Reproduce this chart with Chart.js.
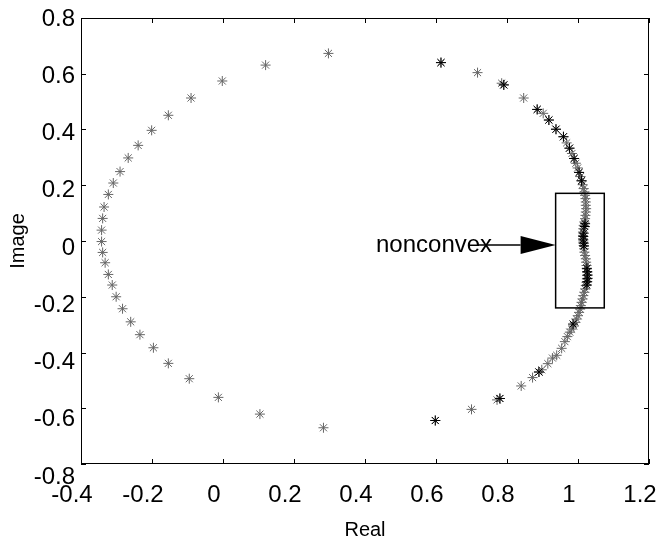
<!DOCTYPE html>
<html>
<head>
<meta charset="utf-8">
<script src="https://cdn.jsdelivr.net/npm/chart.js@4"></script>
<style>
  html, body { margin: 0; padding: 0; background: #fff; }
  #wrap { width: 660px; height: 546px; position: relative; }
</style>
</head>
<body>
<div id="wrap"><canvas id="poleChart"></canvas></div>
<script>
// all poles (grey)
const greyRe = [
    0.614, 0.717, 0.785, 0.791, 0.847, 0.885, 0.902, 0.918, 0.938, 0.959,
    0.968, 0.976, 0.983, 0.989, 0.994, 0.999, 1.003, 1.007, 1.010, 1.013,
    1.016, 1.018,
    1.020, 1.021, 1.022, 1.022, 1.023, 1.022, 1.021, 1.020, 1.018, 1.016,
    1.015, 1.014, 1.014, 1.014, 1.015, 1.016, 1.017, 1.018, 1.020, 1.022,
    1.023, 1.024, 1.025, 1.026, 1.026, 1.025, 1.024, 1.022, 1.020, 1.018,
    1.015, 1.013, 1.010, 1.008,
    1.006, 1.003, 1.000, 0.996, 0.992, 0.988, 0.982, 0.977, 0.970, 0.963,
    0.954, 0.940, 0.928, 0.915, 0.898, 0.890, 0.872, 0.840, 0.780, 0.772,
    0.700, 0.598,
    0.283, 0.104, -0.013, -0.095, -0.154, -0.196, -0.234, -0.260, -0.283, -0.301,
    -0.312, -0.323, -0.332, -0.339, -0.342, -0.342, -0.339, -0.335, -0.323, -0.309,
    -0.290, -0.267, -0.239, -0.201, -0.154, -0.090, -0.002, 0.120, 0.297
];
const greyIm = [
    0.640, 0.604, 0.566, 0.560, 0.513, 0.472, 0.458, 0.434, 0.401, 0.374,
    0.352, 0.333, 0.314, 0.296, 0.279, 0.262, 0.246, 0.231, 0.216, 0.202,
    0.188, 0.176,
    0.164, 0.152, 0.140, 0.128, 0.116, 0.104, 0.092, 0.080, 0.068, 0.056,
    0.044, 0.032, 0.020, 0.008, -0.004, -0.016, -0.028, -0.040, -0.052, -0.064,
    -0.076, -0.088, -0.100, -0.112, -0.124, -0.136, -0.148, -0.160, -0.172, -0.184,
    -0.196, -0.208, -0.220, -0.232,
    -0.244, -0.256, -0.268, -0.280, -0.292, -0.305, -0.316, -0.327, -0.343, -0.361,
    -0.385, -0.410, -0.420, -0.440, -0.462, -0.470, -0.490, -0.520, -0.565, -0.570,
    -0.604, -0.644,
    -0.670, -0.621, -0.561, -0.494, -0.439, -0.383, -0.336, -0.290, -0.243, -0.200,
    -0.158, -0.120, -0.078, -0.041, -0.002, 0.039, 0.081, 0.122, 0.167, 0.208,
    0.249, 0.298, 0.343, 0.397, 0.451, 0.513, 0.574, 0.631, 0.673
];
// poles drawn in black
const blackRe = [
    0.614, 0.791, 0.885, 0.918, 0.938, 0.959, 0.976, 0.989, 1.003, 1.010,
    1.020, 1.019, 1.016, 1.015, 1.015, 1.016, 1.017,
    1.025, 1.026, 1.027, 1.027, 1.026, 1.025,
    0.986, 0.890, 0.780, 0.598
];
const blackIm = [
    0.640, 0.560, 0.472, 0.434, 0.401, 0.374, 0.333, 0.296, 0.246, 0.216,
    0.062, 0.052, 0.028, 0.016, 0.004, -0.008, -0.018,
    -0.098, -0.110, -0.122, -0.134, -0.146, -0.158,
    -0.298, -0.470, -0.565, -0.644
];

const xTicks = [-0.4, -0.2, 0, 0.2, 0.4, 0.6, 0.8, 1, 1.2];
const yTicks = [-0.8, -0.6, -0.4, -0.2, 0, 0.2, 0.4, 0.6, 0.8];

// annotation (data units)
const boxRe = [0.937, 1.074];
const boxIm = [-0.240, 0.171];
const arrowTail = [0.718, -0.014];
const arrowTip = [0.937, -0.014];
const noteText = 'nonconvex';
const notePos = [0.431, -0.014];

const FONT = "'Liberation Sans', Arial, sans-serif";
Chart.defaults.color = '#000';
Chart.defaults.font.family = FONT;

const toPoints = (re, im) => re.map((v, i) => ({ x: v, y: im[i] }));
const fmt = v => String(+v.toFixed(1));

const frame = {
    id: 'frame',
    afterDraw(chart) {
        const { ctx, chartArea: a, scales: { x, y } } = chart;
        ctx.save();
        ctx.strokeStyle = '#000';
        ctx.lineWidth = 1;
        ctx.strokeRect(Math.round(a.left) + 0.5, Math.round(a.top) + 0.5,
            Math.round(a.width) - 1, Math.round(a.height) - 1);
        const tl = 5;
        ctx.beginPath();
        xTicks.forEach(v => {
            const px = Math.round(x.getPixelForValue(v)) + 0.5;
            ctx.moveTo(px, a.bottom); ctx.lineTo(px, a.bottom - tl);
            ctx.moveTo(px, a.top); ctx.lineTo(px, a.top + tl);
        });
        yTicks.forEach(v => {
            const py = Math.round(y.getPixelForValue(v)) + 0.5;
            ctx.moveTo(a.left, py); ctx.lineTo(a.left + tl, py);
            ctx.moveTo(a.right, py); ctx.lineTo(a.right - tl, py);
        });
        ctx.stroke();

        // y tick labels, drifting slightly downwards like the original export
        ctx.fillStyle = '#000';
        ctx.font = '24px ' + FONT;
        ctx.textAlign = 'right';
        ctx.textBaseline = 'middle';
        yTicks.forEach(v => {
            const drift = 12 * (0.8 - v) / 1.6;
            ctx.fillText(fmt(v), a.left - 6, y.getPixelForValue(v) + drift + 1);
        });

        // box + arrow + text
        const bx0 = x.getPixelForValue(boxRe[0]), bx1 = x.getPixelForValue(boxRe[1]);
        const by0 = y.getPixelForValue(boxIm[1]), by1 = y.getPixelForValue(boxIm[0]);
        ctx.lineWidth = 1.5;
        ctx.strokeRect(bx0, by0, bx1 - bx0, by1 - by0);

        const tx = x.getPixelForValue(arrowTail[0]), ty = y.getPixelForValue(arrowTail[1]);
        const hx = x.getPixelForValue(arrowTip[0]), hy = y.getPixelForValue(arrowTip[1]);
        const headLen = 35, headHalf = 9;
        ctx.beginPath();
        ctx.moveTo(tx, ty); ctx.lineTo(hx - headLen, hy);
        ctx.stroke();
        ctx.beginPath();
        ctx.moveTo(hx, hy);
        ctx.lineTo(hx - headLen, hy - headHalf);
        ctx.lineTo(hx - headLen, hy + headHalf);
        ctx.closePath();
        ctx.fill();

        ctx.textAlign = 'left';
        ctx.fillText(noteText, x.getPixelForValue(notePos[0]), y.getPixelForValue(notePos[1]));
        ctx.restore();
    }
};

new Chart(document.getElementById('poleChart'), {
    type: 'scatter',
    data: {
        datasets: [
            {
                label: 'black',
                data: toPoints(blackRe, blackIm),
                pointStyle: 'star',
                pointRadius: 5,
                borderColor: '#000',
                borderWidth: 1,
                order: 0
            },
            {
                label: 'grey',
                data: toPoints(greyRe, greyIm),
                pointStyle: 'star',
                pointRadius: 5,
                borderColor: '#666',
                borderWidth: 1,
                order: 1
            }
        ]
    },
    options: {
        responsive: true,
        maintainAspectRatio: false,
        animation: false,
        layout: { padding: { top: 18, right: 11, left: 0, bottom: 0 } },
        plugins: { legend: { display: false }, tooltip: { enabled: false } },
        scales: {
            x: {
                type: 'linear',
                min: -0.4, max: 1.2,
                afterBuildTicks: s => { s.ticks = xTicks.map(v => ({ value: v })); },
                afterFit: s => { s.height = 82; s.paddingLeft = 0; s.paddingRight = 0; },
                grid: { display: false, drawTicks: false },
                border: { display: false },
                ticks: {
                    autoSkip: false, maxRotation: 0, padding: 17, labelOffset: -9,
                    font: { size: 24 },
                    callback: fmt
                },
                title: { display: true, text: 'Real', font: { size: 20 }, padding: { top: 0, bottom: 4 } }
            },
            y: {
                type: 'linear',
                min: -0.8, max: 0.8,
                afterBuildTicks: s => { s.ticks = yTicks.map(v => ({ value: v })); },
                afterFit: s => { s.width = 81; s.paddingTop = 0; s.paddingBottom = 0; },
                grid: { display: false, drawTicks: false },
                border: { display: false },
                ticks: { display: false },
                title: { display: true, text: 'Image', font: { size: 20 }, padding: { top: 6, bottom: 0 } }
            }
        }
    },
    plugins: [frame]
});
</script>
</body>
</html>
